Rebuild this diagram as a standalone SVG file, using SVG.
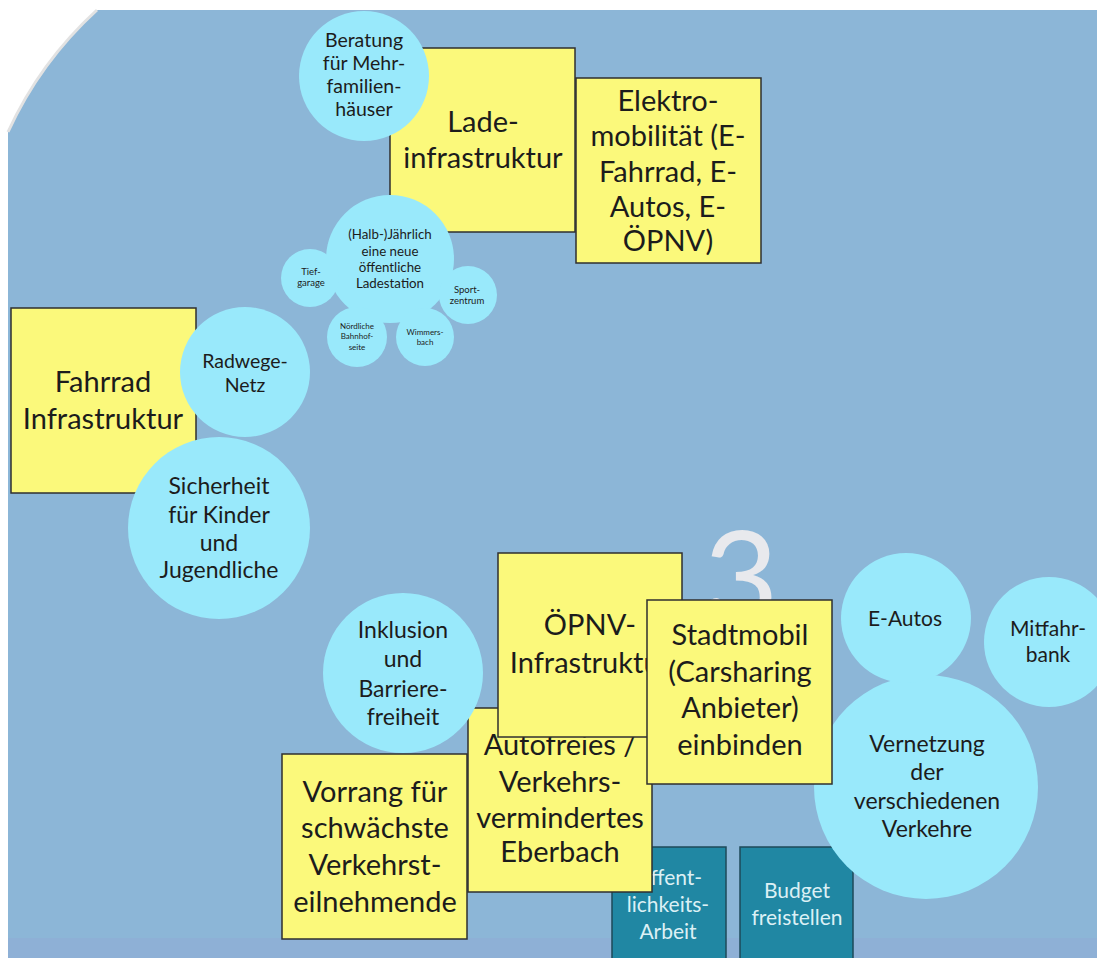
<svg xmlns="http://www.w3.org/2000/svg" width="1097" height="958" viewBox="0 0 1097 958">
<style>
text{font-family:Lato,"Liberation Sans",sans-serif;fill:#1c1c1c;text-anchor:middle}
.y{fill:#fbf97b;stroke:#2f2f2f;stroke-width:1.5}
.c{fill:#99e9fb}
.t{fill:#2087a3;stroke:#1d4a5a;stroke-width:1.5}
.b{font-size:29px}
.m{font-size:19.5px}
.l{font-size:23px}
.s{font-size:13.3px}
.xs{font-size:9.5px}
.xxs{font-size:8px}
.w{fill:#dcf0f5;font-size:21px}
</style>
<rect x="0" y="0" width="1097" height="958" fill="#ffffff"/>
<rect x="8" y="10" width="1089" height="948" fill="#8cb6d7"/>
<rect x="8" y="938" width="1089" height="20" fill="#8eb0d6"/>
<path d="M8,10 L97,10 Q40,62 8,132 Z" fill="#ffffff"/>
<path d="M97,10 Q40,62 8,132" fill="none" stroke="#e2e2e2" stroke-width="3"/>
<g id="connectors"></g>
<g id="oeffentlichkeit"><rect class="t" x="612" y="847" width="114" height="120"/>
<text class="w" x="668" y="885">Öffent-</text><text class="w" x="668" y="912">lichkeits-</text><text class="w" x="668" y="939">Arbeit</text></g>
<g id="budget"><rect class="t" x="740" y="847" width="113" height="120"/>
<text class="w" x="797" y="898">Budget</text><text class="w" x="797" y="925">freistellen</text></g>
<text x="741" y="624" style="font-size:130px;font-weight:400;fill:#e8e9ed">3</text>
<g id="lade"><rect class="y" x="390" y="48" width="185" height="184"/>
<text class="b" x="483" y="132">Lade-</text><text class="b" x="483" y="168">infrastruktur</text></g>
<g id="beratung"><circle class="c" cx="364" cy="76" r="65"/>
<text class="m" x="364" y="47">Beratung</text><text class="m" x="364" y="70">für Mehr-</text><text class="m" x="364" y="93">familien-</text><text class="m" x="364" y="116">häuser</text></g>
<g id="elektro"><rect class="y" x="576" y="78" width="185" height="185"/>
<text class="b" x="668" y="111">Elektro-</text><text class="b" x="668" y="146">mobilität (E-</text><text class="b" x="668" y="182">Fahrrad, E-</text><text class="b" x="668" y="217">Autos, E-</text><text class="b" x="668" y="251">ÖPNV)</text></g>
<g id="ladestation"><circle class="c" cx="390" cy="259" r="64"/>
<text class="s" x="390" y="239">(Halb-)Jährlich</text><text class="s" x="390" y="256">eine neue</text><text class="s" x="390" y="272">öffentliche</text><text class="s" x="390" y="288">Ladestation</text></g>
<g id="tiefgarage"><circle class="c" cx="310" cy="278" r="29"/>
<text class="xs" x="311" y="275">Tief-</text><text class="xs" x="311" y="286">garage</text></g>
<g id="sportzentrum"><circle class="c" cx="468" cy="295" r="29"/>
<text class="xs" x="467" y="293">Sport-</text><text class="xs" x="467" y="304">zentrum</text></g>
<g id="bahnhof"><circle class="c" cx="357" cy="337" r="30"/>
<text class="xxs" x="357" y="329">Nördliche</text><text class="xxs" x="357" y="339">Bahnhof-</text><text class="xxs" x="357" y="350">seite</text></g>
<g id="wimmersbach"><circle class="c" cx="425" cy="337" r="29"/>
<text class="xxs" x="425" y="335">Wimmers-</text><text class="xxs" x="425" y="345">bach</text></g>
<g id="fahrrad"><rect class="y" x="11" y="308" width="185" height="185"/>
<text class="b" x="103" y="392">Fahrrad</text><text class="b" x="103" y="429">Infrastruktur</text></g>
<g id="radwege"><circle class="c" cx="245" cy="372" r="65"/>
<text class="m" x="245" y="368">Radwege-</text><text class="m" x="245" y="392">Netz</text></g>
<g id="sicherheit"><circle class="c" cx="219" cy="528" r="91"/>
<text class="l" x="219" y="494">Sicherheit</text><text class="l" x="219" y="523">für Kinder</text><text class="l" x="219" y="551">und</text><text class="l" x="219" y="578">Jugendliche</text></g>
<g id="vernetzung"><circle class="c" cx="926" cy="787" r="112"/>
<text class="l" x="927" y="752">Vernetzung</text><text class="l" x="927" y="780">der</text><text class="l" x="927" y="809">verschiedenen</text><text class="l" x="927" y="837">Verkehre</text></g>
<g id="eautos"><circle class="c" cx="906" cy="618" r="65"/>
<text style="font-size:21px" x="905" y="626">E-Autos</text></g>
<g id="mitfahrbank"><circle class="c" cx="1049" cy="642" r="65"/>
<text style="font-size:21px" x="1048" y="636">Mitfahr-</text><text style="font-size:21px" x="1048" y="662">bank</text></g>
<g id="autofrei"><rect class="y" x="468" y="708" width="184" height="184"/>
<text class="b" x="560" y="755">Autofreies /</text><text class="b" x="560" y="792">Verkehrs-</text><text class="b" x="560" y="828">vermindertes</text><text class="b" x="560" y="862">Eberbach</text></g>
<g id="vorrang"><rect class="y" x="282" y="754" width="185" height="185"/>
<text class="b" x="375" y="802">Vorrang für</text><text class="b" x="375" y="838">schwächste</text><text class="b" x="375" y="875">Verkehrst-</text><text class="b" x="375" y="912">eilnehmende</text></g>
<g id="inklusion"><circle class="c" cx="403" cy="673" r="80"/>
<text class="l" x="403" y="638">Inklusion</text><text class="l" x="403" y="667">und</text><text class="l" x="403" y="697">Barriere-</text><text class="l" x="403" y="725">freiheit</text></g>
<g id="oepnv"><rect class="y" x="498" y="553" width="184" height="184"/>
<text class="b" x="590" y="635">ÖPNV-</text><text class="b" x="590" y="673">Infrastruktur</text></g>
<g id="stadtmobil"><rect class="y" x="647" y="600" width="185" height="184"/>
<text class="b" x="740" y="645">Stadtmobil</text><text class="b" x="740" y="682">(Carsharing</text><text class="b" x="740" y="718">Anbieter)</text><text class="b" x="740" y="755">einbinden</text></g>
</svg>
